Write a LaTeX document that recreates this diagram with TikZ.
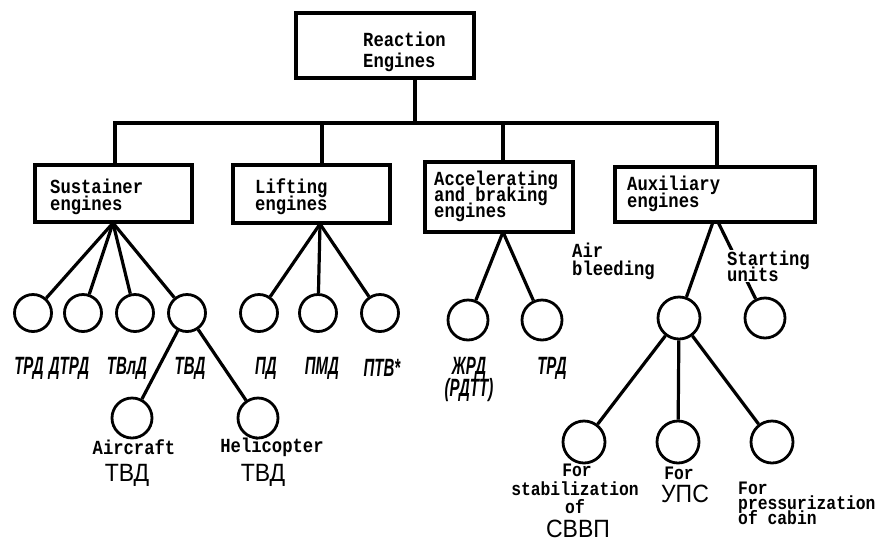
\documentclass[tikz,border=0pt]{standalone}
\usepackage{fontspec}
\setmonofont[FakeStretch=0.86]{Liberation Mono}
\newfontfamily\cyrit[FakeStretch=0.6]{Liberation Sans}
\newfontfamily\cyrup[FakeStretch=0.92]{Liberation Sans}
\lineskiplimit=-50pt
\begin{document}
\begin{tikzpicture}[x=1pt,y=-1pt,
  box/.style={draw, rectangle, line width=3.2pt, inner sep=0pt},
  eng/.style={draw, circle, inner sep=0pt, line width=2.8pt, minimum size=#1},
  eng/.default=37pt,
  conn/.style={line width=3.2pt},
  lab/.style={font=\ttfamily\bfseries\fontsize{20}{17}\selectfont, align=left, inner sep=0pt},
  small/.style={font=\ttfamily\bfseries\fontsize{19}{15}\selectfont, align=left, inner sep=0pt},
  cyr/.style={font=\cyrit\bfseries\itshape\fontsize{25}{22}\selectfont, fill=white, inner sep=1.5pt, align=center},
  cyrbig/.style={font=\cyrup\fontsize{25}{25}\selectfont, inner sep=0pt}
]
\useasboundingbox (0,0) rectangle (885,544);

% boxes
\node[box, minimum width=178pt, minimum height=65pt] (top) at (385,45.5) {};
\node[box, minimum width=157pt, minimum height=57pt] (sus) at (113.5,193.5) {};
\node[box, minimum width=157pt, minimum height=58pt] (lif) at (311.5,194) {};
\node[box, minimum width=148pt, minimum height=70pt] (acc) at (499,197) {};
\node[box, minimum width=200pt, minimum height=55pt] (aux) at (715,194.5) {};

% box texts
\node[lab, anchor=west, font=\ttfamily\bfseries\fontsize{20}{21}\selectfont] (topT) at (363,52) {Reaction\\Engines};
\node[lab, anchor=west] (susT) at (50,197) {Sustainer\\engines};
\node[lab, anchor=west] (lifT) at (255,197) {Lifting\\engines};
\node[lab, anchor=west, font=\ttfamily\bfseries\fontsize{20}{16}\selectfont] (accT) at (434,196) {Accelerating\\and braking\\engines};
\node[lab, anchor=west] (auxT) at (627,194) {Auxiliary\\engines};

% tree bar
\coordinate (bT) at (415,123);
\coordinate (dS) at (115,123);
\coordinate (dL) at (322,123);
\coordinate (dA) at (503,123);
\coordinate (dX) at (717,123);
\draw[conn] (bT) -- (bT |- top.south);
\draw[conn, line join=miter] (dS |- sus.north) -- (dS) -- (dX) -- (dX |- aux.north);
\draw[conn] (dL) -- (dL |- lif.north);
\draw[conn] (dA) -- (dA |- acc.north);

% circles
\node[eng] (trd) at (33,313) {};
\node[eng] (dtrd) at (83,313) {};
\node[eng] (tvld) at (135,313) {};
\node[eng] (tvd) at (187,313) {};
\node[eng] (pd) at (259,313) {};
\node[eng] (pmd) at (318,313) {};
\node[eng] (ptv) at (380,313) {};
\node[eng=40pt] (zhrd) at (468,320) {};
\node[eng=40pt] (trdA) at (542,320) {};
\node[eng=42pt] (ab) at (679,318) {};
\node[eng=40pt] (su) at (765,318) {};
\node[eng=42pt] (st1) at (584,442) {};
\node[eng=42pt] (st2) at (678,442) {};
\node[eng=42pt] (st3) at (772,442) {};
\node[eng=40pt] (airc) at (132,418) {};
\node[eng=40pt] (heli) at (258,418) {};

% connectors
\coordinate (sC) at (113,223);
\coordinate (lC) at (320,224);
\coordinate (aC) at (503,232);
\coordinate (xC) at (713,222);
\coordinate (xC2) at (718,222);
\foreach \n in {trd,dtrd,tvld,tvd} \draw[conn] (sC) -- (\n);
\foreach \n in {pd,pmd,ptv} \draw[conn] (lC) -- (\n);
\foreach \n in {zhrd,trdA} \draw[conn] (aC) -- (\n);
\draw[conn] (xC) -- (ab);
\draw[conn] (xC2) -- (su);
\foreach \n in {st1,st2,st3} \draw[conn] (ab) -- (\n);
\draw[conn] (tvd) -- (airc);
\draw[conn] (tvd) -- (heli);

% row labels
\node[cyr] (lTRD) at (29,368) {ТРД};
\node[cyr] (lDTRD) at (69,368) {ДТРД};
\node[cyr] (lTVLD) at (127,368) {ТВлД};
\node[cyr] (lTVD) at (190,368) {ТВД};
\node[cyr] (lPD) at (266,368) {ПД};
\node[cyr] (lPMD) at (322,368) {ПМД};
\node[cyr] (lPTV) at (382,368) {ПТВ*};
\node[cyr] (lZHRD) at (469,379) {ЖРД\\(РДТТ)};
\node[cyr] (lTRDA) at (552,368) {ТРД};

% lower left labels
\node[lab] (airL) at (134,447) {Aircraft};
\node[cyrbig] (airT) at (127,475) {ТВД};
\node[lab] (helL) at (272,447) {Helicopter};
\node[cyrbig] (helT) at (263,475) {ТВД};

% auxiliary labels
\node[lab, anchor=west, font=\ttfamily\bfseries\fontsize{20}{18}\selectfont] (ablT) at (572,261) {Air\\bleeding};
\node[lab, anchor=west, fill=white, inner sep=1pt, font=\ttfamily\bfseries\fontsize{20}{16}\selectfont] (stT) at (726,266) {Starting\\units};
\node[small] (f1a) at (577,470) {For};
\node[small] (f1b) at (575,489) {stabilization};
\node[small] (f1c) at (575,507) {of};
\node[cyrbig] (f1d) at (578,529) {СВВП};
\node[small] (f2a) at (679,473) {For};
\node[cyrbig] (f2b) at (685,494) {УПС};
\node[small, anchor=west] (f3) at (738,503) {For\\pressurization\\of cabin};
\end{tikzpicture}
\end{document}
